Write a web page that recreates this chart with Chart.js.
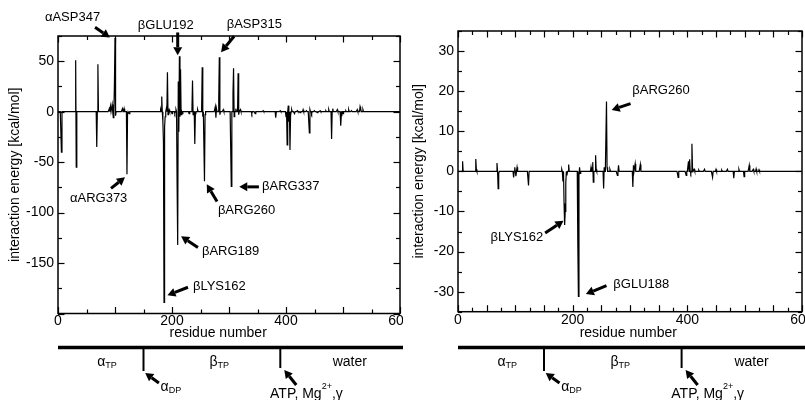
<!DOCTYPE html>
<html>
<head>
<meta charset="utf-8">
<script src="https://cdn.jsdelivr.net/npm/chart.js@4.4.1/dist/chart.umd.min.js"></script>
<style>
  body { margin: 0; background: #fff; }
  canvas { position: absolute; top: 0; }
  #left { left: 0; }
  #right { left: 403px; }
</style>
</head>
<body>
<canvas id="left" width="403" height="400"></canvas>
<canvas id="right" width="402" height="400"></canvas>
<script>
// residues with a non-zero interaction energy; every other residue sits on the 0 line
let leftResidue = [6, 31, 32, 68, 70, 90, 92, 95, 97, 99, 100, 101, 113, 116, 121, 122, 125,
  180, 182, 184, 185, 186, 187, 188, 190, 192, 193, 195, 200, 205, 207, 209, 210, 211, 212, 213, 214, 215, 216, 218,
  230, 235, 236, 237, 240, 241, 245, 252, 253, 254, 257, 258, 276, 277, 278, 282, 283, 284, 290,
  304, 307, 308, 309, 312, 316, 317, 320, 340, 346, 360, 382, 390,
  400, 402, 404, 405, 407, 408, 410, 415, 420, 425, 430, 436, 441, 442, 445, 450, 455, 460, 470, 475,
  480, 482, 490, 496, 497, 500, 505, 510, 515, 525, 530, 531, 535];
let leftEnergy = [-40, 51, -55, -35, 47, 3, 5, 7, -6, 28, 73, -4, 3, 3, -62, -3, -2,
  2, 15, -10, -30, -189, -15, -5, 3, 39, -3, 2, -2, -2, 2, -75, -132, 30, -20, 55, -5, 42, -3, -2,
  -2, 2, 31, -3, -32, -2, 2, 3, 44, -5, -69, -3, 5, -6, 3, 12, 54, -3, 2,
  -74, 18, 43, -5, 3, 38, -3, 2, -2, -2, 1, -6, 1,
  -5, -33, 6, -10, -38, -4, 2, -2, 1, -1, 2, 1, -21, 2, -2, 1, -1, 1, 1, 2,
  -27, 3, 2, -14, -4, -2, 1, 2, 1, 2, 5, 3, 2];

let rightResidue = [8, 31, 32, 68, 70, 71, 97, 99, 101, 103, 123,
  181, 183, 185, 186, 187, 188, 190, 193, 209, 210, 211, 212, 213,
  232, 235, 236, 240, 241, 254, 255, 259, 260, 265, 278, 280, 305, 306, 309, 318,
  384, 398, 402, 404, 406, 408, 409, 412, 420, 430, 444, 450, 460, 470, 481, 490, 499, 508, 515, 520, 525];
let rightEnergy = [2.5, 3.1, 0.5, 2.1, -4.3, -0.5, -1.5, 1, -1.2, 1, -3.5,
  0.5, -2.5, -8, -13.4, -10, -3, -1, 1.7, -18.4, -31.2, -1, 1, -0.5,
  1, 2.3, -2.7, 4, 0.5, -4.3, 1, 17.4, 1, 0.5, -1, 1.5, -3.9, 1.5, 1.9, 1.7,
  -1.5, -1, 2.5, 3, -0.5, 6.9, 1, 0.5, 0.3, 0.5, -1.5, 0.5, 0.3, 0.5, -1.7, 0.5, -1.3, 1.5, 0.5, 0.6, 0.4];

let lastResidue = 600;
let xTickLabels = [0, 200, 400, 600];
let leftYTicks = [-150, -100, -50, 0, 50];
let rightYTicks = [-30, -20, -10, 0, 10, 20, 30];

// subunit strip under the axes (residue units)
let stripBounds = [150, 390];
let stripLabels = [{ t: 'α', sub: 'TP', at: 86 }, { t: 'β', sub: 'TP', at: 283 }, { t: 'water', at: 512 }];

// annotations in data units: label anchor, arrow tail, arrow head
let leftNotes = [
  { text: 'αASP347', at: [-23, 93.5], tail: [65, 83.6], head: [91, 73.5] },
  { text: 'βGLU192', at: [140, 85.6], tail: [210, 78.5], head: [210, 56] },
  { text: 'βASP315', at: [296, 86.5], tail: [309, 74.7], head: [286, 59] },
  { text: 'αARG373', at: [21, -86], tail: [93, -76], head: [117.5, -65] },
  { text: 'βARG337', at: [358, -74.5], tail: [352.5, -74.5], head: [318, -74.5] },
  { text: 'βARG260', at: [280.5, -98], tail: [279, -89], head: [261, -72] },
  { text: 'βARG189', at: [252.5, -138.4], tail: [245.5, -134.5], head: [216, -123.5] },
  { text: 'βLYS162', at: [236.7, -173], tail: [228, -174], head: [192, -182] }
];
let rightNotes = [
  { text: 'βARG260', at: [304, 20.1], tail: [301, 16.9], head: [268, 15.3] },
  { text: 'βLYS162', at: [148.7, -16.4], tail: [152, -15.4], head: [184, -12.3], right: true },
  { text: 'βGLU188', at: [271, -28.3], tail: [259, -28.5], head: [223, -30.6] }
];

Chart.defaults.font.family = "'Liberation Sans', Arial, sans-serif";
Chart.defaults.color = '#000';

function series(res, en) {
  let pts = [];
  for (let r = 0; r <= lastResidue; r++) {
    let i = res.indexOf(r);
    pts.push({ x: r, y: i < 0 ? 0 : en[i] });
  }
  return pts;
}

function seg(ctx, x1, y1, x2, y2) {
  ctx.beginPath(); ctx.moveTo(x1, y1); ctx.lineTo(x2, y2); ctx.stroke();
}

function arrow(ctx, x1, y1, x2, y2) {
  let a = Math.atan2(y2 - y1, x2 - x1), hl = 8, hw = 4.5;
  let bx = x2 - hl * Math.cos(a), by = y2 - hl * Math.sin(a);
  ctx.lineWidth = 3;
  seg(ctx, x1, y1, bx, by);
  ctx.beginPath();
  ctx.moveTo(x2, y2);
  ctx.lineTo(bx + hw * Math.sin(a), by - hw * Math.cos(a));
  ctx.lineTo(bx - hw * Math.sin(a), by + hw * Math.cos(a));
  ctx.closePath(); ctx.fill();
}

// base text with a small lowered part, centred on cx
function subText(ctx, base, sub, cx, cy) {
  ctx.font = "14px 'Liberation Sans', Arial, sans-serif";
  let w1 = ctx.measureText(base).width;
  ctx.font = "9px 'Liberation Sans', Arial, sans-serif";
  let w2 = sub ? ctx.measureText(sub).width : 0;
  let x0 = cx - (w1 + w2) / 2;
  ctx.textAlign = 'left'; ctx.textBaseline = 'middle';
  ctx.font = "14px 'Liberation Sans', Arial, sans-serif";
  ctx.fillText(base, x0, cy);
  if (sub) {
    ctx.font = "9px 'Liberation Sans', Arial, sans-serif";
    ctx.fillText(sub, x0 + w1, cy + 4);
  }
}

function decor(cfg) {
  return {
    id: 'decor',
    afterDraw(chart) {
      let { ctx, chartArea: a, scales: { x, y } } = chart;
      ctx.save();
      ctx.strokeStyle = '#000'; ctx.fillStyle = '#000';

      // inward tick marks on all four sides
      ctx.lineWidth = 1.2;
      for (let v = 0; v <= 600; v += cfg.xMinor) {
        let len = v % cfg.xMajor === 0 ? 6.5 : 4;
        let px = Math.round(x.getPixelForValue(v)) + 0.5;
        seg(ctx, px, a.bottom, px, a.bottom - len);
        seg(ctx, px, a.top, px, a.top + len);
      }
      for (let v = Math.ceil(y.min / cfg.yMinor) * cfg.yMinor; v <= y.max; v += cfg.yMinor) {
        let len = v % cfg.yMajor === 0 ? 6.5 : 4;
        let py = Math.round(y.getPixelForValue(v)) + 0.5;
        seg(ctx, a.left, py, a.left + len, py);
        seg(ctx, a.right, py, a.right - len, py);
      }
      ctx.lineWidth = 1.5;
      ctx.strokeRect(a.left, a.top, a.width, a.height);

      // x title
      ctx.font = "14px 'Liberation Sans', Arial, sans-serif";
      ctx.textAlign = 'center'; ctx.textBaseline = 'middle';
      ctx.fillText('residue number', x.getPixelForValue(cfg.xTitleAt), 333);

      // labelled arrows
      cfg.notes.forEach(n => {
        ctx.font = "13px 'Liberation Sans', Arial, sans-serif";
        ctx.textAlign = n.right ? 'right' : 'left';
        ctx.textBaseline = 'middle';
        ctx.fillText(n.text, x.getPixelForValue(n.at[0]), y.getPixelForValue(n.at[1]));
        arrow(ctx, x.getPixelForValue(n.tail[0]), y.getPixelForValue(n.tail[1]),
          x.getPixelForValue(n.head[0]), y.getPixelForValue(n.head[1]));
      });

      // subunit strip
      ctx.lineWidth = 3.5;
      seg(ctx, a.left, 347.5, chart.width, 347.5);
      ctx.lineWidth = 2;
      stripBounds.forEach((b, i) => {
        let px = x.getPixelForValue(b);
        seg(ctx, px, 349, px, i === 0 ? 371 : 368);
      });
      stripLabels.forEach(s => subText(ctx, s.t, s.sub, x.getPixelForValue(s.at), 362));
      subText(ctx, 'α', 'DP', x.getPixelForValue(198), 387);
      arrow(ctx, x.getPixelForValue(177), 383, x.getPixelForValue(153), 373);

      // ATP, Mg2+, gamma
      let ax = x.getPixelForValue(372);
      ctx.font = "14px 'Liberation Sans', Arial, sans-serif";
      ctx.textAlign = 'left'; ctx.textBaseline = 'middle';
      ctx.fillText('ATP, Mg', ax, 394);
      let w = ctx.measureText('ATP, Mg').width;
      ctx.font = "9px 'Liberation Sans', Arial, sans-serif";
      ctx.fillText('2+', ax + w, 387);
      let w2 = ctx.measureText('2+').width;
      ctx.font = "14px 'Liberation Sans', Arial, sans-serif";
      ctx.fillText(',γ', ax + w + w2, 394);
      arrow(ctx, x.getPixelForValue(418), 385, x.getPixelForValue(397), 370);

      ctx.restore();
    }
  };
}

function buildChart(id, cfg) {
  return new Chart(document.getElementById(id), {
    type: 'line',
    data: {
      datasets: [{
        data: series(cfg.residue, cfg.energy),
        borderColor: '#000', borderWidth: 1.2, pointRadius: 0, tension: 0, fill: false
      }]
    },
    options: {
      responsive: false, animation: false, events: [],
      layout: { padding: { top: cfg.top, right: 3, bottom: 60, left: 0 } },
      plugins: { legend: { display: false }, tooltip: { enabled: false } },
      scales: {
        x: {
          type: 'linear', min: 0, max: 600,
          grid: { display: false, drawTicks: false }, border: { display: false },
          ticks: { padding: 1, maxRotation: 0, autoSkip: false, font: { size: 14, lineHeight: 1 } },
          afterBuildTicks: s => { s.ticks = xTickLabels.map(v => ({ value: v })); },
          afterFit: s => { s.height = cfg.xHeight; s.paddingLeft = 0; s.paddingRight = 0; }
        },
        y: {
          min: cfg.yMin, max: cfg.yMax,
          grid: { display: false, drawTicks: false }, border: { display: false },
          ticks: { padding: 4, font: { size: 14, lineHeight: 1 } },
          afterBuildTicks: s => { s.ticks = cfg.yTicks.map(v => ({ value: v })); },
          afterFit: s => { s.width = cfg.yWidth; s.paddingTop = 0; s.paddingBottom = 0; },
          title: {
            display: true, text: 'interaction energy [kcal/mol]',
            font: { size: 14, lineHeight: 1 }, padding: { top: cfg.titlePad, bottom: 0 }
          }
        }
      }
    },
    plugins: [decor(cfg)]
  });
}

buildChart('left', {
  residue: leftResidue, energy: leftEnergy, yTicks: leftYTicks, notes: leftNotes,
  yMin: -200, yMax: 75, top: 36, xHeight: 26.5, yWidth: 58, titlePad: 8,
  xMajor: 100, xMinor: 50, yMajor: 50, yMinor: 25, xTitleAt: 281
});
buildChart('right', {
  residue: rightResidue, energy: rightEnergy, yTicks: rightYTicks, notes: rightNotes,
  yMin: -35, yMax: 35, top: 31, xHeight: 28.3, yWidth: 55, titlePad: 9,
  xMajor: 50, xMinor: 25, yMajor: 10, yMinor: 5, xTitleAt: 297
});
</script>
</body>
</html>
